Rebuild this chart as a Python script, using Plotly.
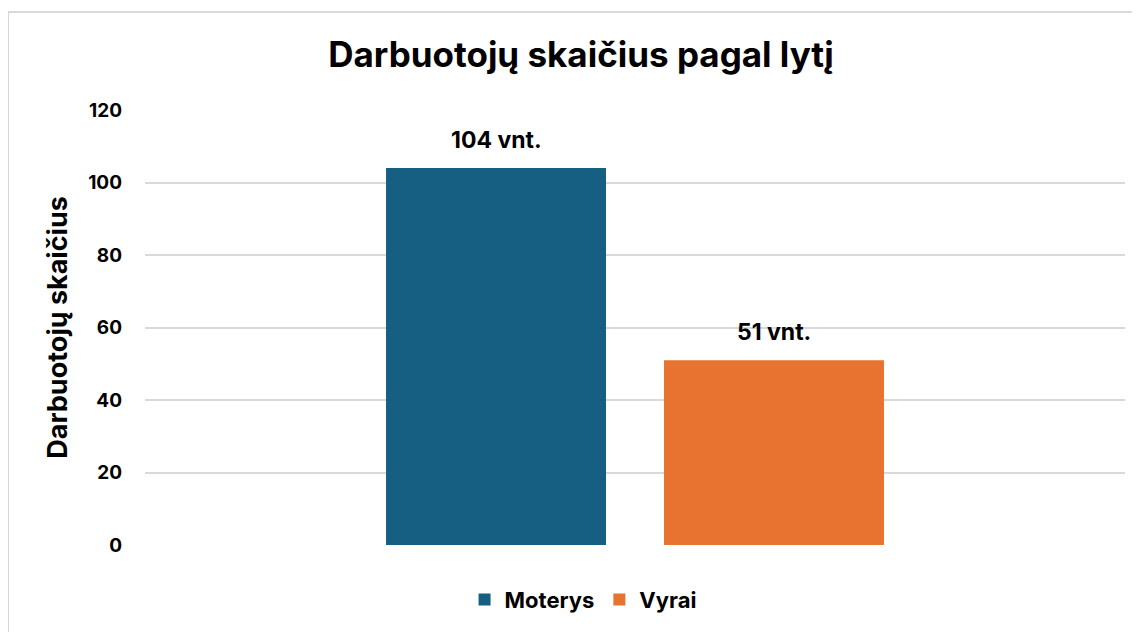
import plotly.graph_objects as go

categories = ["Darbuotojai"]
series_names = ["Moterys", "Vyrai"]
series_values = [[104], [51]]
series_colors = ["#175f82", "#e8722f"]
label_suffix = " vnt."
y_ticks = [0, 20, 40, 60, 80, 100, 120]

FONT = "Inter"

fig = go.Figure()
for name, vals, col in zip(series_names, series_values, series_colors):
    fig.add_trace(go.Bar(
        x=categories, y=vals, name=f"<b>{name}</b>",
        marker=dict(color=col, line=dict(width=0)),
        offsetgroup=name,
    ))

# data labels
for i, (name, vals) in enumerate(zip(series_names, series_values)):
    for c, v in zip(categories, vals):
        fig.add_annotation(
            x=c, y=v, text=f"<b>{v}{label_suffix}</b>", showarrow=False,
            xref="x", yref="y", yanchor="bottom", yshift=12,
            xshift=(-139 if i == 0 else 139),
            font=dict(family=FONT, size=23, color="#000000"),
        )

# outer border
fig.add_shape(type="rect", xref="paper", yref="paper",
              x0=-0.1398, x1=1.03, y0=-0.25, y1=1.2253,
              line=dict(color="#d9d9d9", width=2), fillcolor="rgba(0,0,0,0)", layer="below")

fig.update_layout(
    width=1140, height=632,
    margin=dict(l=137, r=23, t=102, b=95),
    paper_bgcolor="white", plot_bgcolor="white",
    barmode="group", bargap=0.4327, bargroupgap=0.2086,
    title=dict(text="<b>Darbuotojų skaičius pagal lytį</b>", x=0.5026, xanchor="center",
               y=0.9256, yanchor="middle",
               font=dict(family=FONT, size=35, color="#000000")),
    font=dict(family=FONT, color="#000000"),
    showlegend=True,
    legend=dict(orientation="h", x=0.447, xanchor="center", y=-0.126, yanchor="middle",
                font=dict(family=FONT, size=22, color="#000000"),
                itemsizing="constant", traceorder="normal"),
    xaxis=dict(type="category", range=[-0.5, 0.5], showticklabels=False, showgrid=False,
               zeroline=False, showline=False, fixedrange=True),
    yaxis=dict(range=[0, 120], tickvals=y_ticks, ticktext=[f"<b>{t}</b>" for t in y_ticks],
               showgrid=True, gridcolor="#d9d9d9", gridwidth=1.5,
               zeroline=False, showline=False, ticks="", ticklabelstandoff=22,
               tickfont=dict(family=FONT, size=19, color="#000000"),
               title=dict(text="<b>Darbuotojų skaičius</b>", standoff=12,
                          font=dict(family=FONT, size=27, color="#000000"))),
)
fig.write_html("out.html")
